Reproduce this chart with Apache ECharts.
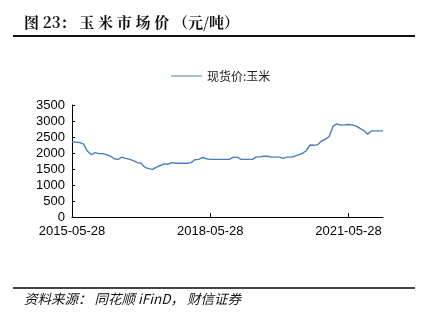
<!DOCTYPE html>
<html><head><meta charset="utf-8">
<script src="https://cdn.jsdelivr.net/npm/echarts@6/dist/echarts.min.js"></script>
<style>html,body{margin:0;padding:0;background:#fff;}#c{width:425px;height:324px;}</style>
</head><body><div id="c"></div>
<script>
// Monthly observations starting 2015-05-28
const startYear = 2015, startMonth = 5, pointCount = 82;
const cornPrice = [
  2350, 2340, 2330, 2280, 2060, 1950, 2010, 1980, 1980, 1950,
  1900, 1820, 1800, 1870, 1830, 1800, 1760, 1700, 1680, 1550,
  1510, 1490, 1560, 1610, 1660, 1650, 1700, 1680, 1680, 1680,
  1680, 1700, 1790, 1800, 1860, 1820, 1800, 1800, 1800, 1800,
  1800, 1800, 1870, 1870, 1800, 1800, 1800, 1800, 1880, 1880,
  1900, 1900, 1870, 1870, 1870, 1830, 1870, 1870, 1900, 1940,
  1990, 2070, 2250, 2240, 2260, 2380, 2430, 2520, 2840, 2910,
  2870, 2880, 2890, 2880, 2840, 2770, 2700, 2590, 2690, 2690,
  2690, 2690
];
const xTickLabels = ['2015-05-28', '2018-05-28', '2021-05-28'];
const yTicks = [0, 500, 1000, 1500, 2000, 2500, 3000, 3500];
const seriesName = '现货价:玉米';
const titleText = '图 23： 玉 米 市 场 价 （元/吨）';
const sourceText = '资料来源： 同花顺 iFinD， 财信证券';

const dates = [];
for (let i = 0; i < pointCount; i++) {
  const mm = startMonth - 1 + i;
  const y = startYear + Math.floor(mm / 12);
  const m = (mm % 12) + 1;
  dates.push(y + '-' + String(m).padStart(2, '0') + '-28');
}
const labelSet = new Set(xTickLabels);

const chart = echarts.init(document.getElementById('c'), null, {renderer: 'canvas'});
chart.setOption({
  animation: false,
  backgroundColor: '#fff',
  graphic: [
    {type: 'text', left: 24, top: 15, style: {text: titleText, font: 'bold 15px "Noto Serif CJK SC","Noto Sans CJK SC",serif', fill: '#111'}},
    {type: 'rect', shape: {x: 13, y: 35, width: 402, height: 2}, style: {fill: '#111'}},
    {type: 'rect', shape: {x: 13, y: 287, width: 402, height: 2}, style: {fill: '#444'}},
    {type: 'text', left: 24, top: 292, style: {text: sourceText, font: 'italic 13.5px "Noto Sans CJK SC",serif', fill: '#111'}}
  ],
  legend: {
    top: 65, left: 166,
    itemWidth: 31, itemHeight: 12, itemGap: 4,
    icon: 'path://M0,5 L31,5 L31,6 L0,6 Z',
    textStyle: {fontSize: 12, color: '#222', fontFamily: '"Noto Sans CJK SC", sans-serif'},
    data: [{name: seriesName}]
  },
  grid: {left: 72, right: 42, top: 105, bottom: 107, containLabel: false},
  xAxis: {
    type: 'category', data: dates, boundaryGap: false,
    axisLine: {lineStyle: {color: '#000', width: 1}},
    axisTick: {inside: true, length: 4, lineStyle: {color: '#000'}, interval: (i, v) => labelSet.has(v) && i > 0},
    axisLabel: {interval: (i, v) => labelSet.has(v), color: '#000', fontSize: 13, fontFamily: '"Liberation Sans", Arial, sans-serif', margin: 8},
    splitLine: {show: false}
  },
  yAxis: {
    type: 'value', min: yTicks[0], max: yTicks[yTicks.length - 1], interval: 500,
    axisLine: {show: true, lineStyle: {color: '#000', width: 1}},
    axisTick: {show: true, inside: true, length: 3, lineStyle: {color: '#000'}},
    axisLabel: {color: '#000', fontSize: 13, fontFamily: '"Liberation Sans", Arial, sans-serif', margin: 7, formatter: v => String(v)},
    splitLine: {show: false}
  },
  series: [{
    name: seriesName, type: 'line', data: cornPrice, showSymbol: false, symbol: 'none',
    lineStyle: {color: '#4a7ebb', width: 1.4}, itemStyle: {color: '#4a7ebb'}
  }]
});
</script></body></html>
